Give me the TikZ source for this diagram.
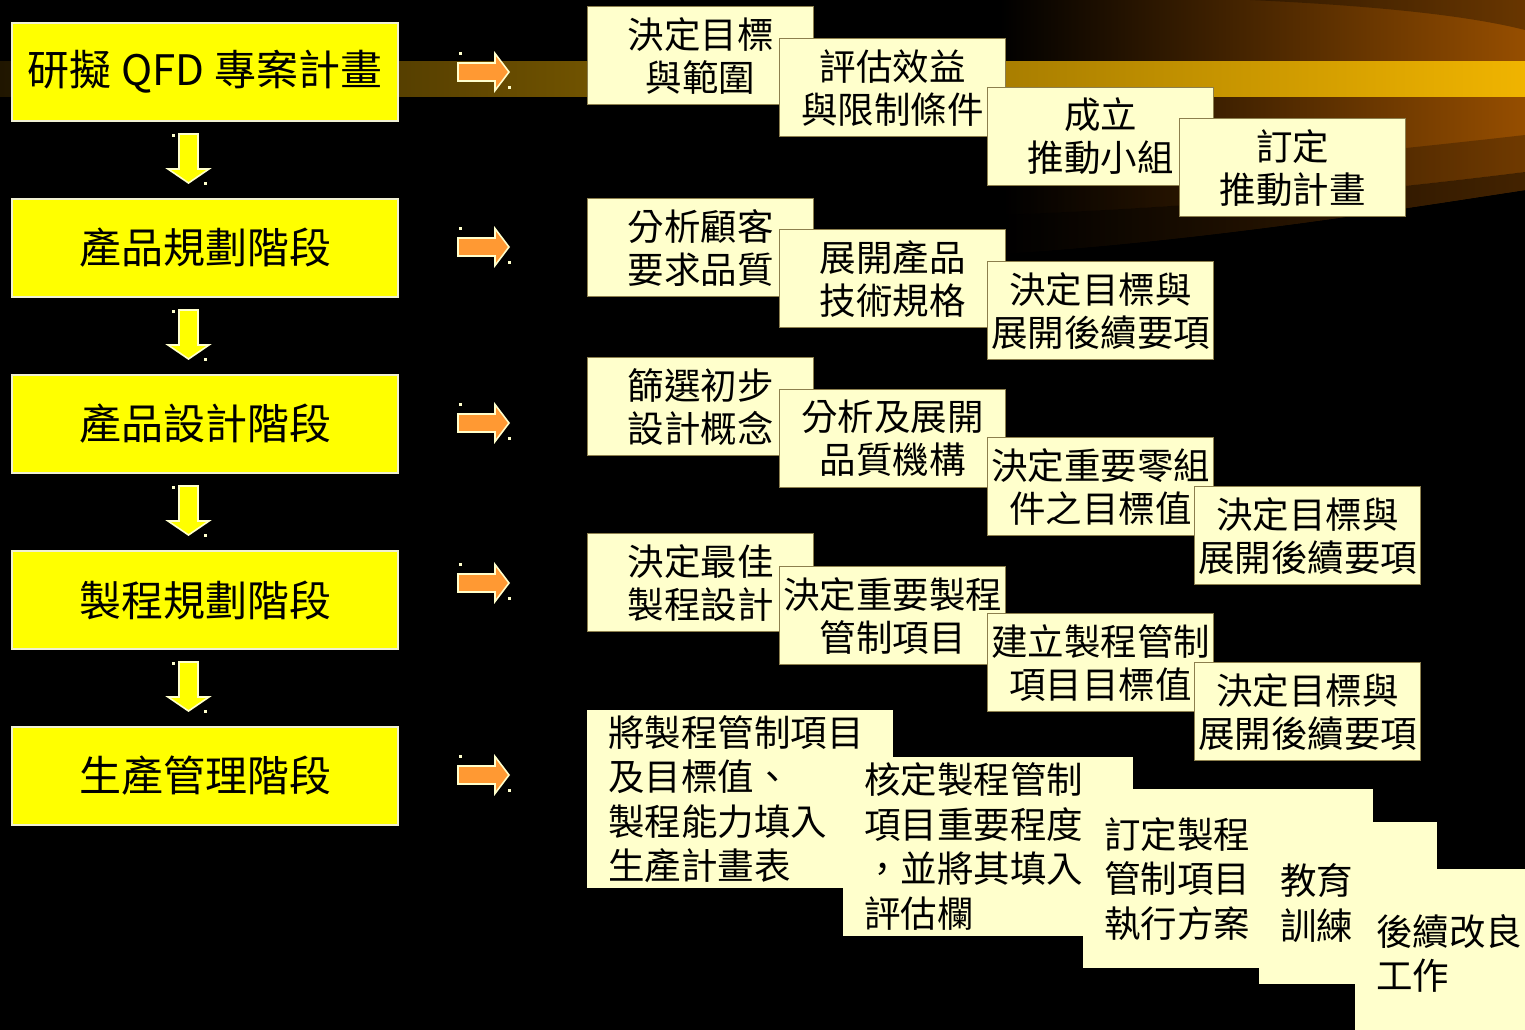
\documentclass[tikz,border=0pt]{standalone}
\usepackage{fontspec}
\setmainfont{Noto Sans CJK TC}
\definecolor{yel}{HTML}{FFFF00}
\definecolor{ybd}{HTML}{F0F0D4}
\definecolor{cream}{HTML}{FFFFCC}
\definecolor{cbd}{HTML}{8C7F4D}
\definecolor{orng}{HTML}{FF9933}
\definecolor{brownR}{HTML}{964E00}
\definecolor{bandL}{HTML}{201600}
\definecolor{bandR}{HTML}{F0B400}
\begin{document}
\begin{tikzpicture}[x=1pt,y=-1pt,
  ybox/.style={draw=ybd, line width=2, fill=yel, minimum width=386, minimum height=98,
    anchor=north west, inner sep=0, font=\fontsize{42}{48}\selectfont},
  cbox/.style={draw=cbd, line width=1.2, fill=cream, minimum width=226, minimum height=98,
    anchor=north west, align=center, inner sep=1, font=\fontsize{36.5}{43}\selectfont},
  cboxl/.style={fill=cream, anchor=north west, align=left, inner xsep=21, inner ysep=0,
    font=\fontsize{36.5}{44.5}\selectfont},
  rarr/.pic={\draw[cream, line width=1.6, fill=orng] (0,-9) -- (37,-9) -- (37,-18.5) -- (51,0) -- (37,18.5) -- (37,9) -- (0,9) -- cycle;
     \fill[cream] (1,-20) rectangle +(3,3); \fill[cream] (50,14) rectangle +(3,3);},
  darr/.pic={\draw[cream, line width=1.6, fill=yel] (-9.5,0) -- (9.5,0) -- (9.5,35) -- (20.5,35) -- (0,49) -- (-20.5,35) -- (-9.5,35) -- cycle;
     \fill[cream] (-17,0) rectangle +(3,3); \fill[cream] (15,48) rectangle +(3,3);}
]
\clip (0,0) rectangle (1525,1030);
\fill[black] (0,0) rectangle (1525,1030);
% swoosh
\begin{scope}
  \clip (950,0) -- (1525,0) -- (1525,190) .. controls (1380,212) and (1180,245) .. (950,257) -- cycle;
  \fill[left color=black, right color=brownR] (1000,0) rectangle (1525,260);
  \fill[black, opacity=0.3] (1250,0) .. controls (1380,6) and (1470,16) .. (1525,30) -- (1525,0) -- cycle;
  \fill[black, opacity=0.25] (1525,135) .. controls (1420,147) and (1250,165) .. (1000,185) -- (1000,215) .. controls (1250,205) and (1420,185) .. (1525,172) -- cycle;
  \fill[black, opacity=0.55] (1525,172) .. controls (1420,185) and (1250,205) .. (1000,215) -- (900,300) -- (1525,300) -- cycle;
\end{scope}
% gold band
\fill[left color=bandL, right color=bandR] (0,62) rectangle (1525,97);

% left column
\node[ybox] (y1) at (11,22) {研擬 QFD 專案計畫};
\node[ybox] (y2) at (11,198) {產品規劃階段};
\node[ybox] (y3) at (11,374) {產品設計階段};
\node[ybox] (y4) at (11,550) {製程規劃階段};
\node[ybox] (y5) at (11,726) {生產管理階段};

\pic at (188.5,134) {darr};
\pic at (188.5,310) {darr};
\pic at (188.5,486) {darr};
\pic at (188.5,662) {darr};

\pic at (458,72) {rarr};
\pic at (458,247) {rarr};
\pic at (458,423) {rarr};
\pic at (458,583) {rarr};
\pic at (458,775) {rarr};

% row 1
\node[cbox] (a1) at (587,6) {決定目標\\與範圍};
\node[cbox] (a2) at (779,38) {評估效益\\與限制條件};
\node[cbox] (a3) at (987,87) {成立\\推動小組};
\node[cbox] (a4) at (1179,118) {訂定\\推動計畫};
% row 2
\node[cbox] (b1) at (587,198) {分析顧客\\要求品質};
\node[cbox] (b2) at (779,229) {展開產品\\技術規格};
\node[cbox] (b3) at (987,261) {決定目標與\\展開後續要項};
% row 3
\node[cbox] (c1) at (587,357) {篩選初步\\設計概念};
\node[cbox] (c2) at (779,389) {分析及展開\\品質機構};
\node[cbox] (c3) at (987,437) {決定重要零組\\件之目標值};
\node[cbox] (c4) at (1194,486) {決定目標與\\展開後續要項};
% row 4
\node[cbox] (d1) at (587,533) {決定最佳\\製程設計};
\node[cbox] (d2) at (779,566) {決定重要製程\\管制項目};
\node[cbox] (d3) at (987,613) {建立製程管制\\項目目標值};
\node[cbox] (d4) at (1194,662) {決定目標與\\展開後續要項};
% row 5
\node[cboxl, text width=264, minimum height=178] (e1) at (587,710) {將製程管制項目\\及目標值、\\製程能力填入\\生產計畫表};
\node[cboxl, text width=248, minimum height=179] (e2) at (843,757) {核定製程管制\\項目重要程度\\，並將其填入\\評估欄};
\node[cboxl, text width=248, minimum height=179] (e3) at (1083,789) {訂定製程\\管制項目\\執行方案};
\node[cboxl, text width=136, minimum height=162] (e4) at (1259,822) {教育\\訓練};
\node[cboxl, text width=160, minimum height=168] (e5) at (1355,869) {後續改良\\工作};
\end{tikzpicture}
\end{document}
